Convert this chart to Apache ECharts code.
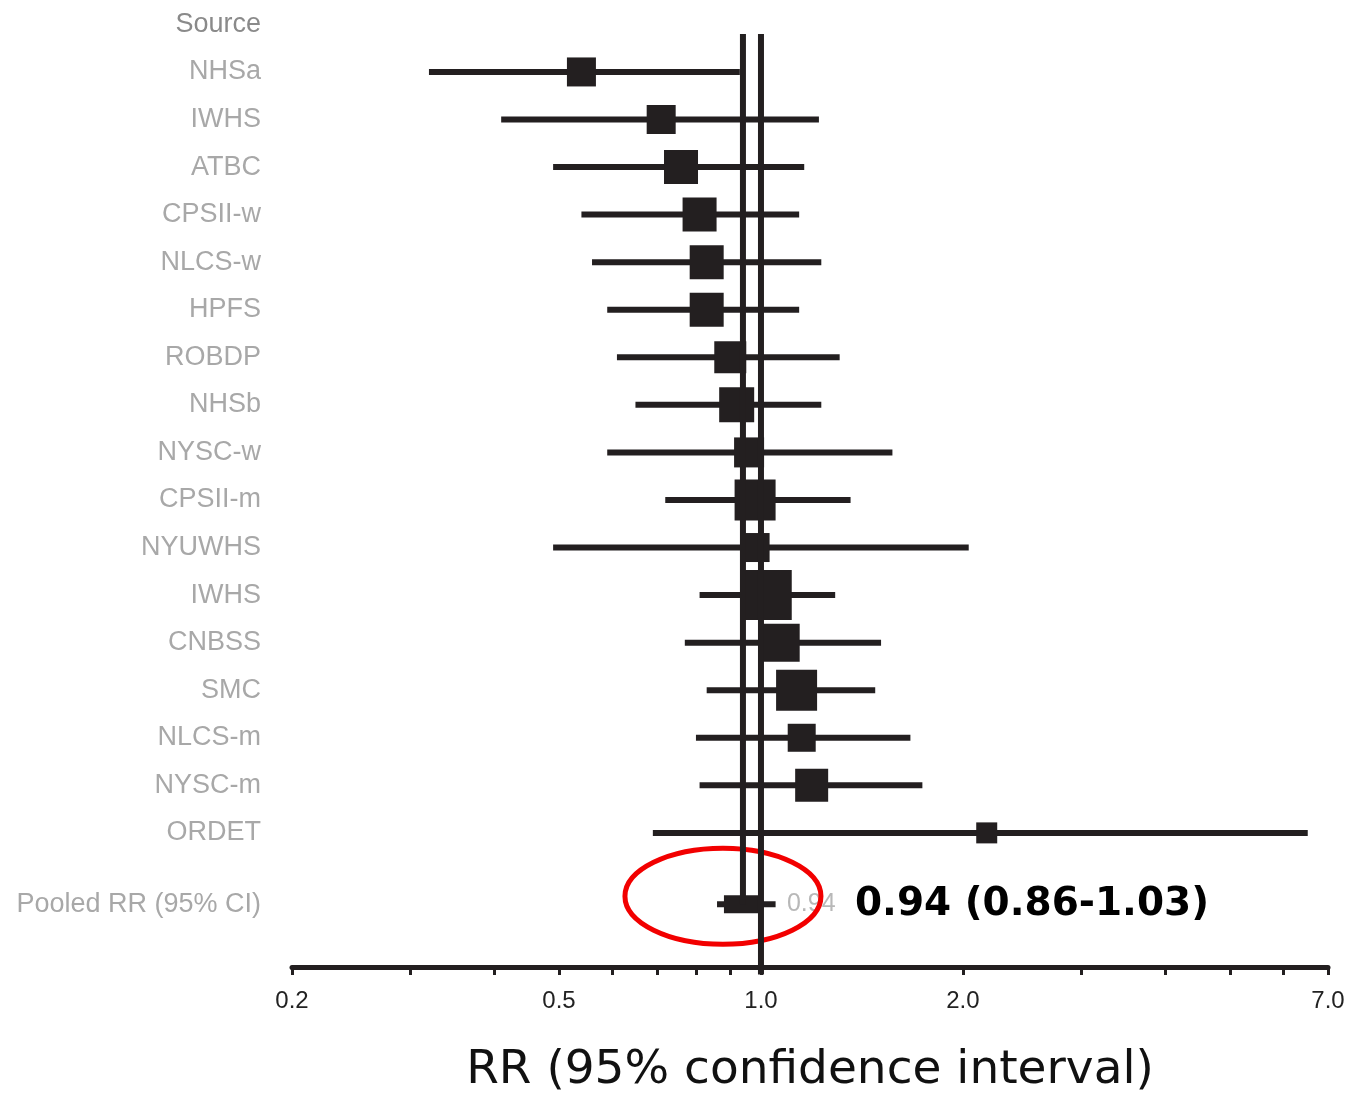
<!DOCTYPE html>
<html>
<head>
<meta charset="utf-8">
<title>RR forest plot</title>
<script src="https://cdn.jsdelivr.net/npm/echarts@6/dist/echarts.min.js"></script>
<style>
  html, body { margin: 0; padding: 0; background: #fff; }
  #main { width: 1370px; height: 1093px; }
</style>
</head>
<body>
<div id="main"></div>
<script>
// studies, top to bottom
var studies = ['NHSa', 'IWHS', 'ATBC', 'CPSII-w', 'NLCS-w', 'HPFS', 'ROBDP', 'NHSb', 'NYSC-w',
               'CPSII-m', 'NYUWHS', 'IWHS', 'CNBSS', 'SMC', 'NLCS-m', 'NYSC-m', 'ORDET'];
var rr     = [0.54, 0.71, 0.76, 0.81, 0.83, 0.83, 0.90, 0.92, 0.96, 0.98, 0.98, 1.02, 1.07, 1.13, 1.15, 1.19, 2.17];
var lower  = [0.32, 0.41, 0.49, 0.54, 0.56, 0.59, 0.61, 0.65, 0.59, 0.72, 0.49, 0.81, 0.77, 0.83, 0.80, 0.81, 0.69];
var upper  = [0.93, 1.22, 1.16, 1.14, 1.23, 1.14, 1.31, 1.23, 1.57, 1.36, 2.04, 1.29, 1.51, 1.48, 1.67, 1.74, 6.53];
var weight = [2.9, 2.9, 3.4, 3.4, 3.4, 3.4, 3.2, 3.5, 3.0, 4.1, 2.9, 5.0, 3.8, 4.1, 2.8, 3.3, 2.1];
var pooledRR = [0.94, 0.86, 1.03];   // estimate, lower, upper
var xTicks  = [0.2, 0.3, 0.4, 0.5, 0.6, 0.7, 0.8, 0.9, 1, 2, 3, 4, 5, 6, 7];
var xLabels = [0.2, 0.5, 1, 2, 7];

var ink = '#231f20';
var pooledRow = studies.length + 1.5;

var rowValues = [0];
for (var i = 0; i < studies.length; i++) rowValues.push(i + 1);
rowValues.push(pooledRow);

var studyData = studies.map(function (name, i) {
  return [Math.log10(rr[i]), Math.log10(lower[i]), Math.log10(upper[i]), i + 1, weight[i]];
});

var myChart = echarts.init(document.getElementById('main'));

var option = {
  animation: false,
  grid: { left: 292, right: 42, top: 12.5, bottom: 126, outerBoundsMode: 'none' },
  xAxis: {
    type: 'value',
    position: 'bottom',
    min: Math.log10(0.2),
    max: Math.log10(7),
    splitLine: { show: false },
    axisLine: { show: true, onZero: false, lineStyle: { color: ink, width: 5 } },
    axisTick: { show: true, customValues: xTicks.map(Math.log10), length: 8,
                lineStyle: { color: ink, width: 3 } },
    axisLabel: {
      customValues: xLabels.map(Math.log10),
      formatter: function (v) { return Math.pow(10, v).toFixed(1); },
      margin: 22, color: '#222', fontSize: 24, fontFamily: 'Liberation Sans'
    },
    name: 'RR (95% confidence interval)',
    nameLocation: 'middle',
    nameGap: 80,
    nameTextStyle: { fontFamily: 'DejaVu Sans', fontSize: 47, color: '#111' }
  },
  yAxis: {
    type: 'value',
    inverse: true,
    min: -0.25,
    max: 19.82,
    splitLine: { show: false },
    axisLine: { show: false },
    axisTick: { show: false },
    axisLabel: {
      customValues: rowValues,
      margin: 31,
      color: '#a8a8a8',
      fontSize: 27,
      fontFamily: 'Liberation Sans',
      formatter: function (v) {
        if (v === 0) return '{src|Source}';
        if (v === pooledRow) return 'Pooled RR (95% CI)';
        return studies[v - 1];
      },
      rich: { src: { color: '#8a8a8a', fontSize: 27, fontFamily: 'Liberation Sans' } }
    }
  },
  series: [
    {
      // reference lines: null effect (1.0) and pooled estimate
      type: 'custom',
      z: 4,
      data: [[Math.log10(1), 0.2, 19.98], [Math.log10(pooledRR[0]), 0.2, pooledRow]],
      encode: { x: 0, y: [1, 2] },
      renderItem: function (params, api) {
        var a = api.coord([api.value(0), api.value(1)]);
        var b = api.coord([api.value(0), api.value(2)]);
        return { type: 'line', shape: { x1: a[0], y1: a[1], x2: b[0], y2: b[1] },
                 style: { stroke: ink, lineWidth: 6 } };
      }
    },
    {
      type: 'custom',
      z: 3,
      data: studyData,
      encode: { x: [0, 1, 2], y: 3 },
      renderItem: function (params, api) {
        var row = api.value(3);
        var c = api.coord([api.value(0), row]);
        var a = api.coord([api.value(1), row]);
        var b = api.coord([api.value(2), row]);
        var s = api.value(4) * 10;
        return {
          type: 'group',
          children: [
            { type: 'line', shape: { x1: a[0], y1: c[1], x2: b[0], y2: c[1] },
              style: { stroke: ink, lineWidth: 6 } },
            { type: 'rect', shape: { x: c[0] - s / 2, y: c[1] - s / 2, width: s, height: s },
              style: { fill: ink } }
          ]
        };
      }
    },
    {
      type: 'custom',
      z: 2,
      data: [[Math.log10(pooledRR[0]), Math.log10(pooledRR[1]), Math.log10(pooledRR[2]), pooledRow]],
      encode: { x: [0, 1, 2], y: 3 },
      renderItem: function (params, api) {
        var row = api.value(3);
        var c = api.coord([api.value(0), row]);
        var a = api.coord([api.value(1), row]);
        var b = api.coord([api.value(2), row]);
        var txt = pooledRR[0].toFixed(2) + ' (' + pooledRR[1].toFixed(2) + '-' + pooledRR[2].toFixed(2) + ')';
        return {
          type: 'group',
          children: [
            { type: 'text', x: c[0] + 44, y: c[1],
              style: { text: pooledRR[0].toFixed(2), fill: '#b8b8b8', fontSize: 25,
                       fontFamily: 'Liberation Sans', verticalAlign: 'middle', align: 'left' } },
            { type: 'ellipse', shape: { cx: c[0] - 20, cy: c[1] - 8, rx: 98, ry: 48 },
              style: { fill: 'none', stroke: '#f20000', lineWidth: 5 } },
            { type: 'line', shape: { x1: a[0], y1: c[1], x2: b[0] + 6, y2: c[1] },
              style: { stroke: ink, lineWidth: 6 } },
            { type: 'rect', shape: { x: c[0] - 19, y: c[1] - 9, width: 39, height: 18 },
              style: { fill: ink } },
            { type: 'text', x: c[0] + 112, y: c[1] + 1,
              style: { text: txt, fill: '#000', fontSize: 39, fontWeight: 'bold',
                       fontFamily: 'DejaVu Sans', verticalAlign: 'middle', align: 'left' } }
          ]
        };
      }
    }
  ]
};

myChart.setOption(option);
</script>
</body>
</html>
